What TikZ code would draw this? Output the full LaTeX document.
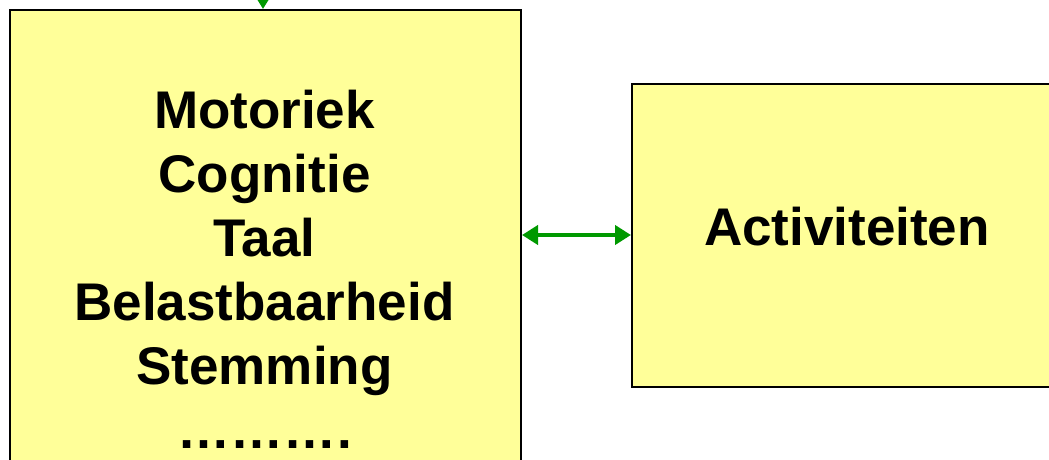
\documentclass[tikz,border=0pt]{standalone}
\usepackage{fontspec}
\setmainfont{Liberation Sans}
\usetikzlibrary{arrows.meta}
\definecolor{boxfill}{RGB}{255,255,153}
\definecolor{arrgreen}{RGB}{0,153,0}
\begin{document}
\begin{tikzpicture}[x=1pt,y=-1pt,
  yellowbox/.style={draw=black,line width=2pt,fill=boxfill,inner sep=0pt},
  bigtext/.style={font=\fontsize{53}{64}\selectfont\bfseries,align=center,inner sep=0pt},
  greenarrow/.style={draw=arrgreen,line width=4.5pt,{Triangle[length=16pt,width=19pt]}-{Triangle[length=16pt,width=19pt]}},
  greenonearrow/.style={draw=arrgreen,line width=4.5pt,-{Triangle[length=13pt,width=15pt]}}]
\useasboundingbox (0,0) rectangle (1049,460);
\clip (0,0) rectangle (1049,460);
\node[yellowbox,minimum width=511pt,minimum height=560pt,anchor=north west] (lbox) at (9,9) {};
\node[yellowbox,minimum width=432pt,minimum height=303pt,anchor=north west] (rbox) at (631,83) {};
\node[bigtext,anchor=north] (ltext) at (264.5,90) {Motoriek\\Cognitie\\Taal\\Belastbaarheid\\Stemming\\………\kern1pt.};
\node[bigtext] (rtext) at (847,227) {Activiteiten};
\coordinate (top) at (263,-30);
\draw[greenarrow] (lbox.east |- 0,235) -- (rbox.west |- 0,235);
\draw[greenonearrow] (top) -- (top |- lbox.north);
\end{tikzpicture}
\end{document}
